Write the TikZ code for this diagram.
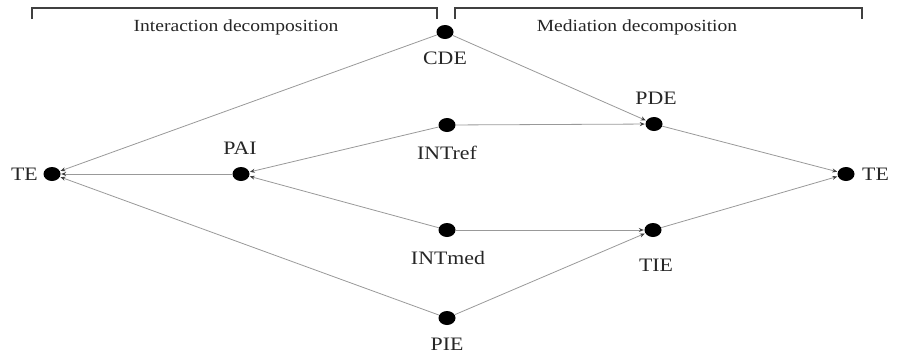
\documentclass[tikz,border=0pt]{standalone}
\usepackage{fontspec}
\setmainfont{Liberation Serif}[FakeStretch=1.15]
\usetikzlibrary{arrows.meta,shapes.geometric}
\begin{document}
\begin{tikzpicture}[x=1pt,y=-1pt,
  dot/.style={ellipse,fill=black,minimum width=17pt,minimum height=14pt,inner sep=0pt},
  lbl/.style={font=\fontsize{19}{22}\selectfont,text=black!85,inner sep=0pt},
  hdr/.style={font=\fontsize{17}{20}\selectfont,text=black!85,inner sep=0pt},
  conn/.style={draw=black!40,line width=0.8pt,-{Stealth[length=5pt,width=4pt,color=black!75]},shorten >=0.5pt},
  brk/.style={draw=black!75,line width=1.6pt}]
\useasboundingbox (0,0) rectangle (898,356);
% nodes
\node[dot] (cde) at (445,32) {};
\node[dot] (intref) at (447,125) {};
\node[dot] (intmed) at (447,230) {};
\node[dot] (pie) at (447,318) {};
\node[dot] (pai) at (241,174) {};
\node[dot] (teL) at (52,174) {};
\node[dot] (pde) at (654,124) {};
\node[dot] (tie) at (653,230) {};
\node[dot] (teR) at (846,174) {};
% labels
\node[lbl] (lcde) at (445,58) {CDE};
\node[lbl] (lintref) at (447,153) {INTref};
\node[lbl] (lintmed) at (448,258) {INTmed};
\node[lbl] (lpie) at (447,344) {PIE};
\node[lbl] (lpai) at (240,148) {PAI};
\node[lbl,anchor=east] (lteL) at (38,174) {TE};
\node[lbl] (lpde) at (656,98) {PDE};
\node[lbl] (ltie) at (656,265) {TIE};
\node[lbl,anchor=west] (lteR) at (862,174) {TE};
% headers
\node[hdr] (hint) at (236,27) {Interaction decomposition};
\node[hdr] (hmed) at (637,27) {Mediation decomposition};
% brackets
\coordinate (b1a) at (32,19); \coordinate (b1b) at (32,8);
\coordinate (b1c) at (437,8); \coordinate (b1d) at (437,19);
\coordinate (b2a) at (455,19); \coordinate (b2b) at (455,8);
\coordinate (b2c) at (862,8); \coordinate (b2d) at (862,19);
\draw[brk] (b1a) -- (b1b) -- (b1c) -- (b1d);
\draw[brk] (b2a) -- (b2b) -- (b2c) -- (b2d);
% connectors
\draw[conn] (cde) -- (teL);
\draw[conn] (pai) -- (teL);
\draw[conn] (pie) -- (teL);
\draw[conn] (intref) -- (pai);
\draw[conn] (intmed) -- (pai);
\draw[conn] (cde) -- (pde);
\draw[conn] (intref) -- (pde);
\draw[conn] (intmed) -- (tie);
\draw[conn] (pie) -- (tie);
\draw[conn] (pde) -- (teR);
\draw[conn] (tie) -- (teR);
\end{tikzpicture}
\end{document}
